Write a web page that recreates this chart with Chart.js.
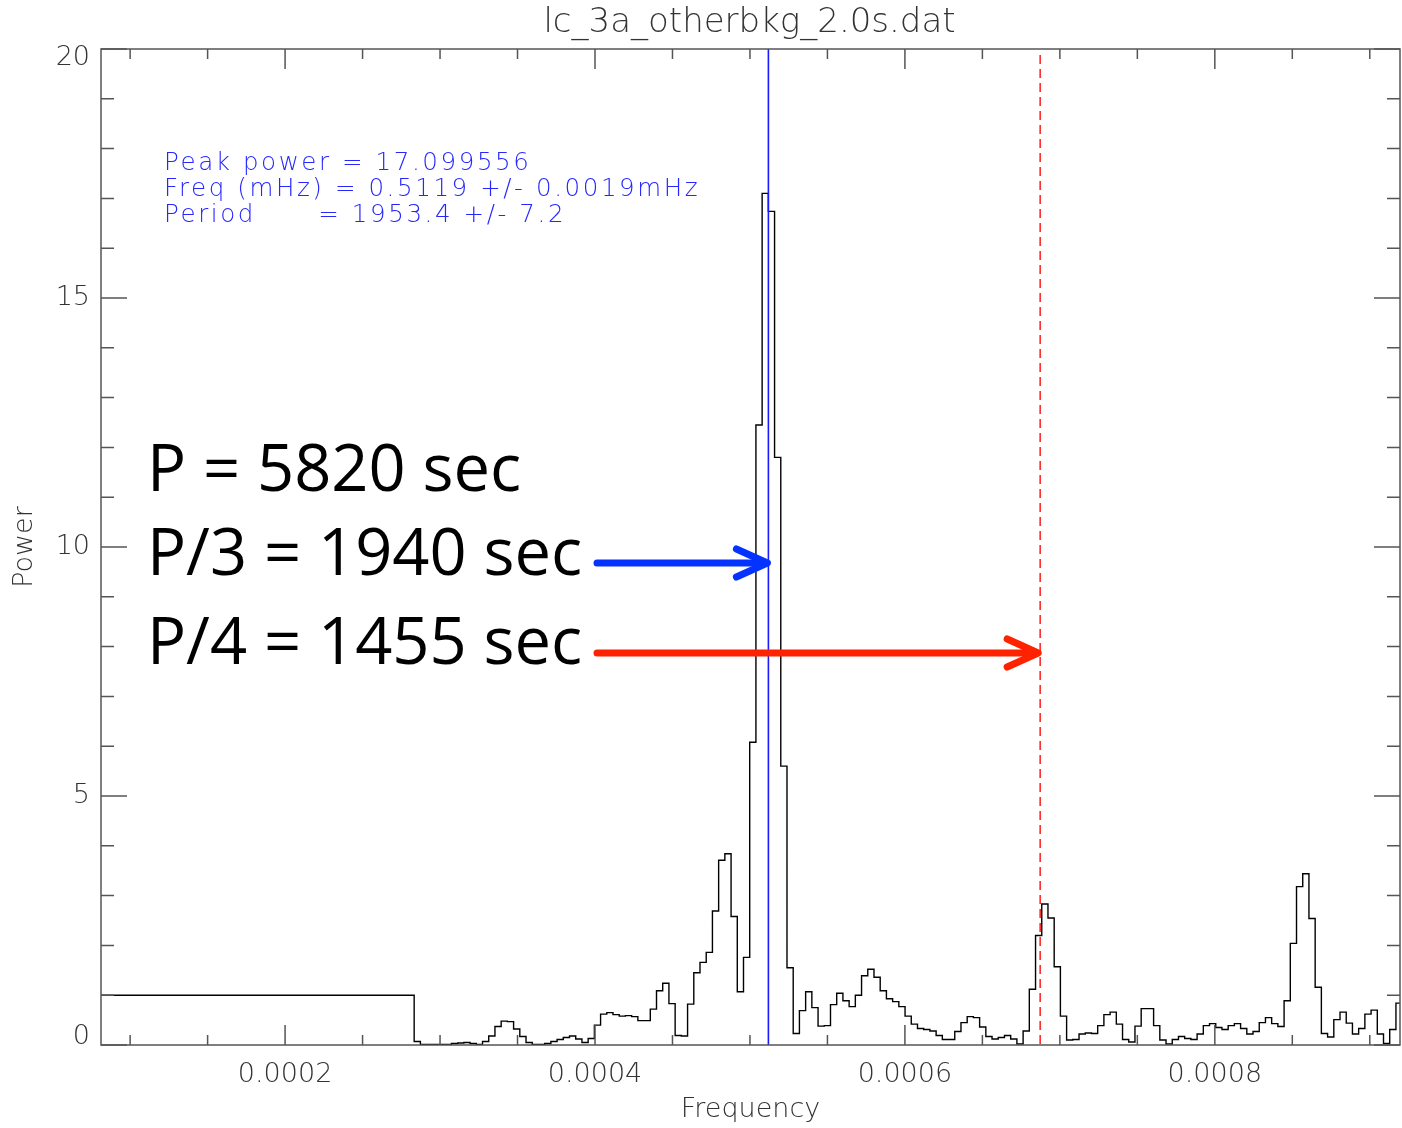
<!DOCTYPE html>
<html>
<head>
<meta charset="utf-8">
<script src="https://cdn.jsdelivr.net/npm/chart.js@4.4.0/dist/chart.umd.min.js"></script>
<style>
  html, body { margin: 0; padding: 0; background: #fff; }
  #wrap { width: 1402px; height: 1128px; }
</style>
</head>
<body>
<div id="wrap"><canvas id="grafico" width="1402" height="1128"></canvas></div>
<script>
// --- DADOS ---
const titulo = 'lc_3a_otherbkg_2.0s.dat';
const freqMin = 0.0000812;
const freqMax = 0.0009195;
const potenciaInicial = 1.0;      // wide first bin, from the left edge
const freqInicio = 0.0002833;     // left edge of the first regular bin
const passoFreq = 4.01e-6;        // bin width
const potencia = [
  0.07, 0.01, 0.01, 0.01, 0.01, 0.01, 0.03, 0.04, 0.05, 0.03, 0.01, 0.07, 0.18, 0.37, 0.48, 0.47,
  0.32, 0.17, 0.05, 0.01, 0.01, 0.03, 0.07, 0.11, 0.15, 0.18, 0.12, 0.05, 0.13, 0.40, 0.62, 0.65, 0.61,
  0.58, 0.59, 0.57, 0.49, 0.49, 0.72, 1.09, 1.24, 0.83, 0.19, 0.18, 0.82, 1.45, 1.66, 1.86, 2.69,
  3.71, 3.84, 2.58, 1.07, 1.76,
  6.08, 12.45, 17.10, 16.74, 11.80, 5.60, 1.55,
  0.23, 0.69, 1.07, 0.75, 0.38, 0.39, 0.81, 1.04, 0.89, 0.77, 1.00, 1.39, 1.52, 1.36, 1.09, 0.93,
  0.87, 0.77, 0.58, 0.42, 0.33, 0.31, 0.28, 0.19, 0.11, 0.11, 0.27, 0.45, 0.57, 0.55, 0.36, 0.17,
  0.12, 0.15, 0.19, 0.12, 0.02, 0.28, 1.12, 2.20, 2.83, 2.55, 1.57, 0.58, 0.10, 0.11, 0.22, 0.24,
  0.23, 0.39, 0.61, 0.66, 0.42, 0.11, 0.06, 0.38, 0.73, 0.73, 0.39, 0.10, 0.02, 0.11, 0.17, 0.13,
  0.11, 0.22, 0.39, 0.43, 0.35, 0.31, 0.39, 0.43, 0.33, 0.22, 0.27, 0.45, 0.55, 0.43, 0.37, 0.89,
  2.04, 3.18, 3.44, 2.54, 1.16, 0.23, 0.16, 0.51, 0.66, 0.44, 0.22, 0.33, 0.62, 0.70, 0.22, 0.03,
  0.31, 0.84
];
const xTicks = [0.0002, 0.0004, 0.0006, 0.0008];
const xTickLabels = ['0.0002', '0.0004', '0.0006', '0.0008'];
const xMinorTicks = [0.0001, 0.00015, 0.00025, 0.0003, 0.00035, 0.00045, 0.0005, 0.00055,
                     0.00065, 0.0007, 0.00075, 0.00085, 0.0009];
const yTicks = [0, 5, 10, 15, 20];
const yTickLabels = ['0', '5', '10', '15', '20'];
const yMinorTicks = [1, 2, 3, 4, 6, 7, 8, 9, 11, 12, 13, 14, 16, 17, 18, 19];
const infoLinhas = ['Peak power = 17.099556', 'Freq (mHz) = 0.5119 +/- 0.0019mHz', 'Period      = 1953.4 +/- 7.2'];
const freqPico = 0.0005119;
const periodo = 5820;
const textosPeriodo = ['P = 5820 sec', 'P/3 = 1940 sec', 'P/4 = 1455 sec'];

// --- PONTOS DO HISTOGRAMA ---
// o primeiro bin começa fora do eixo e é cortado na borda esquerda
const pontos = [{ x: freqMin - passoFreq, y: potenciaInicial }];
potencia.forEach((p, i) => pontos.push({ x: freqInicio + i * passoFreq, y: p }));
pontos.push({ x: freqInicio + potencia.length * passoFreq, y: potencia[potencia.length - 1] });

const fonteIDL = (tam) => `200 ${tam}px "DejaVu Sans", sans-serif`;

function seta(ctx, x0, x1, y, cor) {
  ctx.save();
  ctx.strokeStyle = cor;
  ctx.lineWidth = 7;
  ctx.lineCap = 'round';
  ctx.lineJoin = 'round';
  ctx.beginPath();
  ctx.moveTo(x0, y);
  ctx.lineTo(x1 - 3, y);
  ctx.stroke();
  ctx.beginPath();
  ctx.moveTo(x1 - 31, y - 14);
  ctx.lineTo(x1, y);
  ctx.lineTo(x1 - 31, y + 14);
  ctx.stroke();
  ctx.restore();
}

const pluginIDL = {
  id: 'idl',
  afterDatasetsDraw(chart) {
    const { ctx, chartArea: a, scales: { x, y } } = chart;
    ctx.save();

    // linhas verticais
    const xPico = x.getPixelForValue(freqPico);
    ctx.strokeStyle = '#1a1aff';
    ctx.lineWidth = 1.6;
    ctx.beginPath(); ctx.moveTo(xPico, a.top); ctx.lineTo(xPico, a.bottom); ctx.stroke();
    const xP4 = x.getPixelForValue(4 / periodo);
    ctx.strokeStyle = '#ff2a2a';
    ctx.setLineDash([9, 5]);
    ctx.beginPath(); ctx.moveTo(xP4, a.top + 6); ctx.lineTo(xP4, a.bottom); ctx.stroke();
    ctx.setLineDash([]);

    // moldura e ticks
    ctx.strokeStyle = '#555';
    ctx.lineWidth = 1.5;
    ctx.strokeRect(a.left, a.top, a.right - a.left, a.bottom - a.top);
    ctx.beginPath();
    xTicks.forEach(v => {
      const px = x.getPixelForValue(v);
      ctx.moveTo(px, a.bottom); ctx.lineTo(px, a.bottom - 20);
      ctx.moveTo(px, a.top); ctx.lineTo(px, a.top + 20);
    });
    xMinorTicks.forEach(v => {
      const px = x.getPixelForValue(v);
      ctx.moveTo(px, a.bottom); ctx.lineTo(px, a.bottom - 10);
      ctx.moveTo(px, a.top); ctx.lineTo(px, a.top + 10);
    });
    yTicks.forEach(v => {
      const py = y.getPixelForValue(v);
      ctx.moveTo(a.left, py); ctx.lineTo(a.left + 26, py);
      ctx.moveTo(a.right, py); ctx.lineTo(a.right - 26, py);
    });
    yMinorTicks.forEach(v => {
      const py = y.getPixelForValue(v);
      ctx.moveTo(a.left, py); ctx.lineTo(a.left + 13, py);
      ctx.moveTo(a.right, py); ctx.lineTo(a.right - 13, py);
    });
    ctx.stroke();

    // textos dos eixos
    ctx.fillStyle = '#333';
    ctx.font = fonteIDL(27);
    ctx.textAlign = 'right';
    ctx.textBaseline = 'middle';
    yTicks.forEach((v, i) => {
      const py = Math.min(Math.max(y.getPixelForValue(v), a.top + 9), a.bottom - 8);
      ctx.fillText(yTickLabels[i], a.left - 11, py);
    });
    ctx.textAlign = 'center';
    xTicks.forEach((v, i) => ctx.fillText(xTickLabels[i], x.getPixelForValue(v), a.bottom + 30));
    ctx.fillText('Frequency', (a.left + a.right) / 2, a.bottom + 65);
    ctx.save();
    ctx.translate(25, (a.top + a.bottom) / 2);
    ctx.rotate(-Math.PI / 2);
    ctx.fillText('Power', 0, 0);
    ctx.restore();
    ctx.font = fonteIDL(34);
    ctx.fillText(titulo, (a.left + a.right) / 2 - 1, 23);

    // texto azul do ajuste
    ctx.fillStyle = '#2626ff';
    ctx.font = fonteIDL(24.5);
    ctx.letterSpacing = '2.6px';
    ctx.textAlign = 'left';
    ctx.textBaseline = 'alphabetic';
    infoLinhas.forEach((t, i) => ctx.fillText(t, 164, 170 + i * 25.8));
    ctx.letterSpacing = '0px';

    // textos grandes
    ctx.fillStyle = '#000';
    ctx.font = '65px "Open Sans", "Noto Sans", sans-serif';
    const bases = [491, 575, 664];
    textosPeriodo.forEach((t, i) => ctx.fillText(t, 147, bases[i]));

    // setas
    seta(ctx, 597, xPico - 1, 563, '#0433ff');
    seta(ctx, 597, xP4 - 2, 653, '#ff2200');

    ctx.restore();
  }
};

new Chart(document.getElementById('grafico').getContext('2d'), {
  type: 'line',
  data: {
    datasets: [{
      data: pontos,
      borderColor: '#000',
      borderWidth: 1.4,
      stepped: 'before',
      pointRadius: 0,
      fill: false,
      clip: 0
    }]
  },
  options: {
    responsive: false,
    animation: false,
    devicePixelRatio: 1,
    layout: { padding: { left: 101, top: 49, right: 2, bottom: 83 } },
    plugins: { legend: { display: false }, tooltip: { enabled: false } },
    scales: {
      x: { type: 'linear', min: freqMin, max: freqMax, display: false },
      y: { type: 'linear', min: 0, max: 20, display: false }
    }
  },
  plugins: [pluginIDL]
});
</script>
</body>
</html>
